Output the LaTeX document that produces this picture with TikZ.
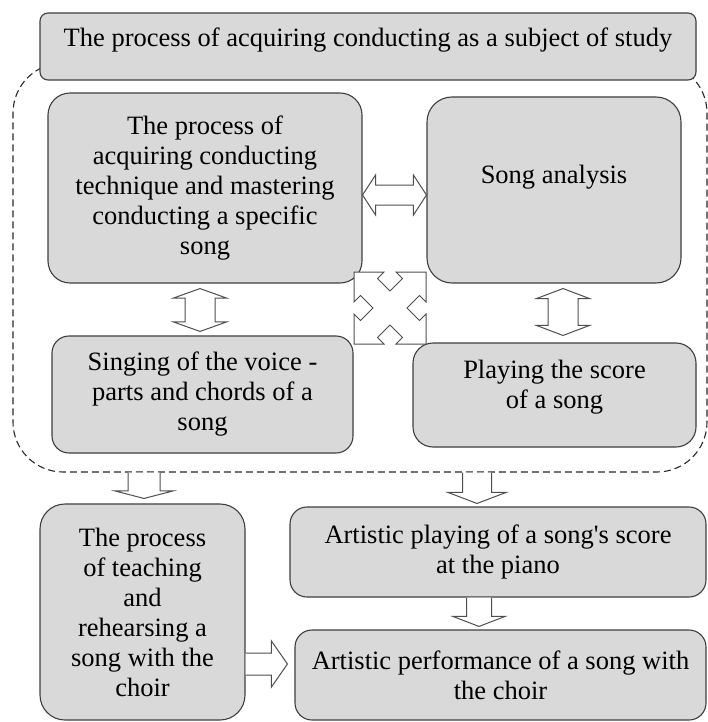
\documentclass[tikz,border=0pt]{standalone}
\usepackage{fontspec}
\setmainfont{Liberation Serif}
\usetikzlibrary{calc}

\definecolor{boxfill}{RGB}{217,217,217}
\definecolor{boxline}{RGB}{62,62,62}
\definecolor{frameline}{RGB}{40,40,40}
\definecolor{arrowline}{RGB}{78,78,78}

% Double-headed block arrow between tips #1 and #2:
% #3 head length, #4 head half-width, #5 shaft half-width
\newcommand{\blockdbl}[5]{%
  \coordinate (bm1) at ($(#1)!#3!(#2)$);
  \coordinate (bm2) at ($(#2)!#3!(#1)$);
  \draw[blockarrow] (#1) -- ($(bm1)!#4!90:(#2)$) -- ($(bm1)!#5!90:(#2)$)
    -- ($(bm2)!#5!-90:(#1)$) -- ($(bm2)!#4!-90:(#1)$) -- (#2)
    -- ($(bm2)!#4!90:(#1)$) -- ($(bm2)!#5!90:(#1)$)
    -- ($(bm1)!#5!-90:(#2)$) -- ($(bm1)!#4!-90:(#2)$) -- cycle;}

% Single block arrow from tail #1 (left open) to tip #2
\newcommand{\blocksgl}[5]{%
  \coordinate (bm2) at ($(#2)!#3!(#1)$);
  \path[blockarrow] ($(#1)!#5!90:(#2)$) -- ($(bm2)!#5!-90:(#1)$)
    -- ($(bm2)!#4!-90:(#1)$) -- (#2) -- ($(bm2)!#4!90:(#1)$)
    -- ($(bm2)!#5!90:(#1)$) -- ($(#1)!#5!-90:(#2)$);}

\tikzset{
  box/.style={draw=boxline, fill=boxfill, line width=1.1pt, inner sep=0pt,
    align=center, font=\fontsize{26.5}{30}\selectfont},
  txt/.style={inner sep=0pt, align=center, font=\fontsize{26.5}{30}\selectfont},
  group/.style={draw=frameline, dash pattern=on 7pt off 4pt, line width=1.1pt,
    rounded corners=50pt, inner sep=0pt},
  blockarrow/.style={draw=arrowline, fill=white, line width=1pt, line join=miter},
}

\begin{document}
\begin{tikzpicture}[x=1pt, y=-1pt]
\useasboundingbox (0,0) rectangle (708,722);

% dashed frame around the study stages
\node[group, minimum width=694pt, minimum height=409pt] (grp) at (360,267.5) {};

% heading
\node[box, rounded corners=8pt, minimum width=656pt, minimum height=67pt] (top) at (368,46.5) {};
\node[txt, anchor=base] (toptext) at (368,47) {The process of acquiring conducting as a subject of study};

% stages inside the frame
\node[box, rounded corners=22pt, minimum width=314pt, minimum height=190pt] (A) at (205,188)
  {The process of\\acquiring conducting\\technique and mastering\\conducting a specific\\song};
\node[box, rounded corners=25pt, minimum width=254pt, minimum height=186pt] (B) at (554,190) {};
\node[txt, anchor=base] (Btext) at (554,183) {Song analysis};
\node[box, rounded corners=17pt, minimum width=301pt, minimum height=117pt] (C) at (202.5,394.5)
  {Singing of the voice -\\parts and chords of a\\song};
\node[box, rounded corners=20pt, minimum width=283pt, minimum height=104pt] (D) at (554.5,395) {};
\node[txt] (Dtext) at (554.5,387) {Playing the score\\of a song};

% stages below the frame
\node[box, rounded corners=25pt, minimum width=205pt, minimum height=216pt] (E) at (142.5,612)
  {The process\\of teaching\\and\\rehearsing a\\song with the\\choir};
\node[box, rounded corners=17pt, minimum width=416pt, minimum height=90pt] (F) at (498,552)
  {Artistic playing of a song\textquotesingle s score\\at the piano};
\node[box, rounded corners=17pt, minimum width=411pt, minimum height=90pt] (G) at (500.5,675)
  {Artistic performance of a song with\\the choir};

% arrow end points
\coordinate (ab1) at ($(A.east)+(0,7)$);
\coordinate (ab2) at ($(B.west)+(0,5)$);
\coordinate (ac1) at ($(A.south)+(-5,5)$);
\coordinate (ac2) at ($(C.north)+(-2.5,-4)$);
\coordinate (bd1) at ($(B.south)+(9,5)$);
\coordinate (bd2) at ($(D.north)+(8.5,-7)$);
\coordinate (ge2) at ($(E.north)+(1.5,-5)$);
\coordinate (ge1) at (grp.south -| ge2);
\coordinate (gf2) at ($(F.north)+(-21,-3)$);
\coordinate (gf1) at (grp.south -| gf2);
\coordinate (fg1) at ($(F.south)+(-19,0)$);
\coordinate (fg2) at ($(G.north)+(-21.5,-3)$);
\coordinate (eg1) at ($(E.east)+(0,52)$);
\coordinate (eg2) at ($(G.west)+(-7,-11)$);
\coordinate (xc) at (390,308);

% two-way links
\blockdbl{ab1}{ab2}{13pt}{20pt}{10pt}
\blockdbl{ac1}{ac2}{9.5pt}{26.5pt}{15pt}
\blockdbl{bd1}{bd2}{10pt}{26.5pt}{15pt}

% crossed diagonal links
\draw[blockarrow, shift={(xc)}]
  (0,-17) -- (12.5,-29.5) -- (6,-36) -- (36,-36) -- (36,-6) -- (29.5,-12.5)
  -- (17,0) -- (29.5,12.5) -- (36,6) -- (36,36) -- (6,36) -- (12.5,29.5)
  -- (0,17) -- (-12.5,29.5) -- (-6,36) -- (-36,36) -- (-36,6) -- (-29.5,12.5)
  -- (-17,0) -- (-29.5,-12.5) -- (-36,-6) -- (-36,-36) -- (-6,-36) -- (-12.5,-29.5)
  -- cycle;

% one-way links
\blocksgl{ge1}{ge2}{7.5pt}{29pt}{16pt}
\blocksgl{gf1}{gf2}{11pt}{29pt}{14.5pt}
\blocksgl{fg1}{fg2}{10pt}{26pt}{12.5pt}
\blocksgl{eg1}{eg2}{16pt}{23pt}{11pt}
\end{tikzpicture}
\end{document}
